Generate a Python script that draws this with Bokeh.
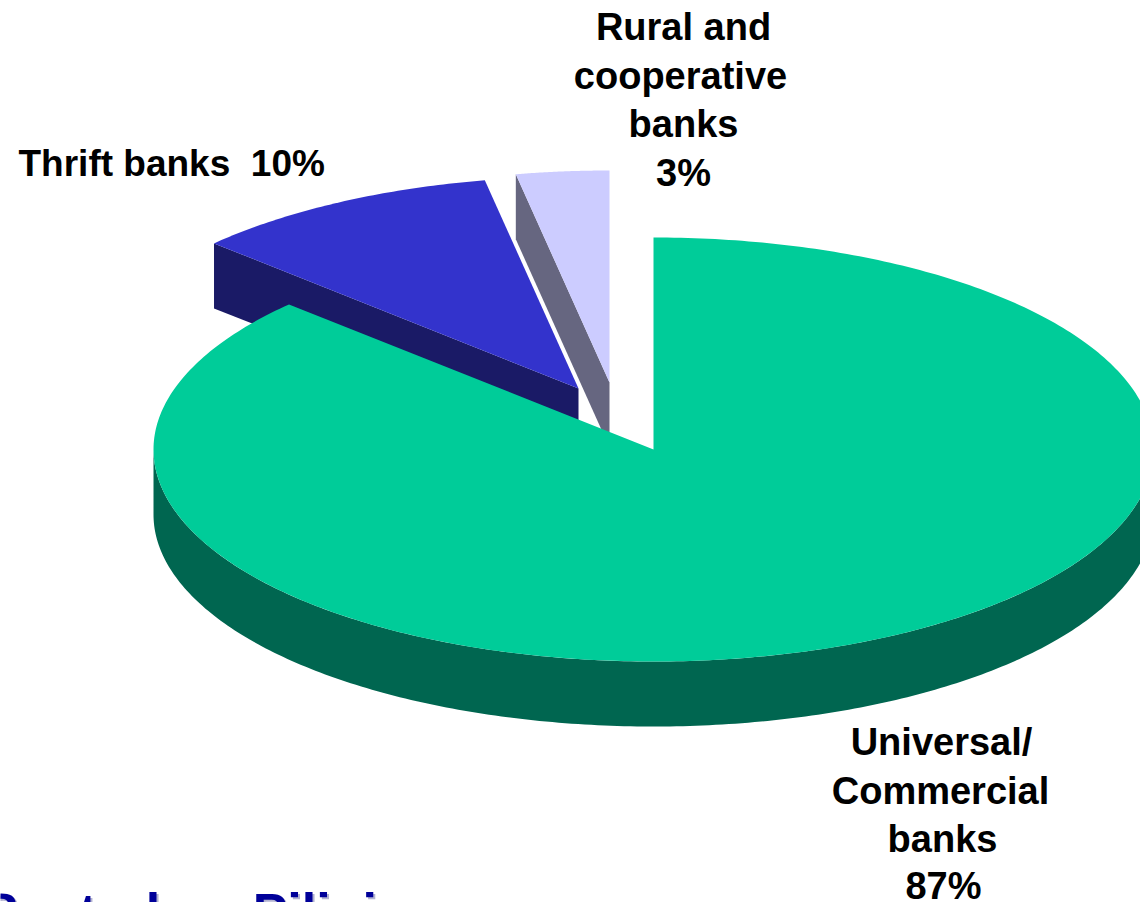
import numpy as np
from bokeh.core.properties import value
from bokeh.embed import file_html
from bokeh.models import ColumnDataSource, Range1d
from bokeh.plotting import figure
from bokeh.resources import INLINE

# Share of banking-system resources by bank type, percent
segments = ["Universal/Commercial banks", "Thrift banks", "Rural and cooperative banks"]
shares = [87, 10, 3]

top_colors = ["#00CC99", "#3333CC", "#CCCCFF"]
wall_colors = ["#006650", "#1A1A66", "#666680"]

FONT = "Liberation Sans"
RX, RY = 500.0, 212.0   # ellipse radii of the tilted disc
DEPTH = 65.0            # height of the disc walls
hubs = [(653.0, 449.0), (578.0, 388.0), (609.0, 382.0)]  # exploded slice centres

p = figure(width=1140, height=902, output_backend="svg", toolbar_location=None,
           x_range=Range1d(0, 1140), y_range=Range1d(902, 0),
           min_border=0, outline_line_color=None, background_fill_color="white",
           border_fill_color="white")
p.axis.visible = False
p.grid.visible = False


def rim(hub, theta):
    # Point on the tilted rim, theta measured clockwise from 12 o'clock
    return hub[0] + RX * np.sin(theta), hub[1] - RY * np.cos(theta)


fractions = np.array(shares, dtype=float) / sum(shares)
ends = np.cumsum(fractions) * 2 * np.pi
starts = ends - fractions * 2 * np.pi

# Slices are painted back to front: rural, thrift, then the large universal slice
for i in (2, 1):
    hub = hubs[i]
    cx, cy = rim(hub, starts[i])
    p.patch([cx, hub[0], hub[0], cx], [cy, hub[1], hub[1] + DEPTH, cy + DEPTH],
            fill_color=wall_colors[i], line_color=None)
    th = np.linspace(starts[i], ends[i], 60)
    xs, ys = rim(hub, th)
    p.patch(np.r_[hub[0], xs], np.r_[hub[1], ys], fill_color=top_colors[i], line_color=None)

hub = hubs[0]
front = np.linspace(np.pi / 2, 3 * np.pi / 2, 240)
fx, fy = rim(hub, front)
p.patch(np.r_[fx, fx[::-1]], np.r_[fy, fy[::-1] + DEPTH], fill_color=wall_colors[0], line_color=None)
th = np.linspace(starts[0], ends[0], 400)
xs, ys = rim(hub, th)
p.patch(np.r_[hub[0], xs], np.r_[hub[1], ys], fill_color=top_colors[0], line_color=None)

# Slice captions, one row per line of text
label_text = ["Rural and", "cooperative", "banks", f"{shares[2]}%",
              "Universal/", "Commercial", "banks", f"{shares[0]}%"]
label_x = [683, 680, 683, 683, 941, 940, 942, 943]
label_y = [26, 75, 123, 172, 741, 790, 838, 885]
p.text(x="x", y="y", text="t",
       source=ColumnDataSource(dict(x=label_x, y=label_y, t=label_text)),
       text_font=value(FONT), text_font_style="bold", text_font_size="38px",
       text_color="black", text_align="center", text_baseline="middle")
p.text(x=[18], y=[163], text=[f"Thrift banks\u00a0\u00a0{shares[1]}%"],
       text_font=value(FONT), text_font_style="bold", text_font_size="37px",
       text_color="black", text_align="left", text_baseline="middle")

# Institution name along the bottom edge, with its soft drop shadow
org = "Sentral ng Pilipinas"
p.text(x=[468], y=[884], text=[org], text_font=value(FONT), text_font_style="bold",
       text_font_size="52px", text_color="#B3B3D1", text_align="right", text_baseline="top")
p.text(x=[466], y=[882], text=[org], text_font=value(FONT), text_font_style="bold",
       text_font_size="52px", text_color="#000099", text_align="right", text_baseline="top")

open("out.html", "w").write(file_html(p, INLINE))
